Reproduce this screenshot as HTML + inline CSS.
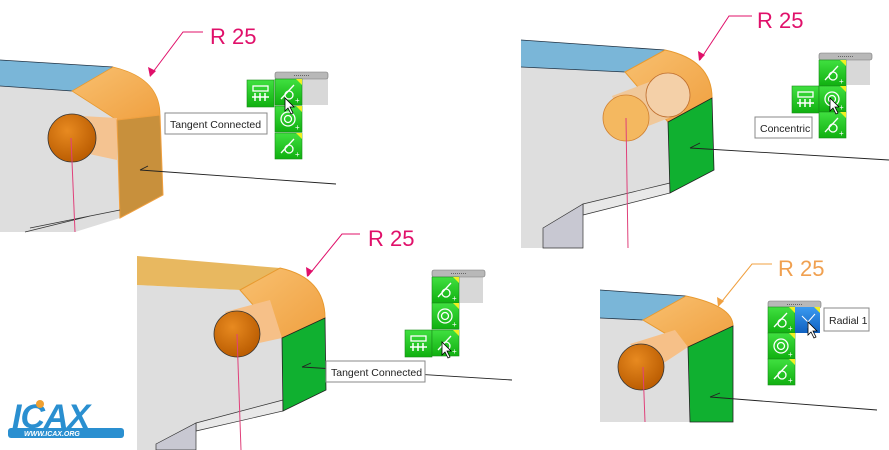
<!DOCTYPE html>
<html><head><meta charset="utf-8"><style>
html,body{margin:0;padding:0;background:#fff;}
svg{display:block;}
text{font-family:"Liberation Sans",sans-serif;}
</style></head><body>
<svg width="889" height="450" viewBox="0 0 889 450" xmlns="http://www.w3.org/2000/svg">
<defs>
<linearGradient id="org" x1="0" y1="0" x2="1" y2="1"><stop offset="0" stop-color="#f8c070"/><stop offset="1" stop-color="#f0a040"/></linearGradient>
<radialGradient id="hole" cx="0.4" cy="0.35" r="0.7"><stop offset="0" stop-color="#e88a20"/><stop offset="1" stop-color="#b85a00"/></radialGradient>
<linearGradient id="gbtn" x1="0" y1="0" x2="0" y2="1"><stop offset="0" stop-color="#40e040"/><stop offset="1" stop-color="#10b010"/></linearGradient>
<linearGradient id="bbtn" x1="0" y1="0" x2="0" y2="1"><stop offset="0" stop-color="#3a9af0"/><stop offset="1" stop-color="#1060c0"/></linearGradient>
<g id="btnT"><rect width="27" height="26" fill="url(#gbtn)" stroke="#1a8a1a" stroke-width="0.6"/><polygon points="21,0 27,0 27,6" fill="#f0f020"/><path d="M6,20 L19,6" stroke="#fff" stroke-width="1.3"/><circle cx="14" cy="16" r="4" fill="none" stroke="#fff" stroke-width="1.3"/><text x="20" y="24" font-size="8" fill="#fff">+</text></g>
<g id="btnC"><rect width="27" height="26" fill="url(#gbtn)" stroke="#1a8a1a" stroke-width="0.6"/><polygon points="21,0 27,0 27,6" fill="#f0f020"/><circle cx="13" cy="13" r="7" fill="none" stroke="#fff" stroke-width="1.3"/><circle cx="13" cy="13" r="3.5" fill="none" stroke="#fff" stroke-width="1.3"/><text x="20" y="24" font-size="8" fill="#fff">+</text></g>
<g id="btnA"><rect width="27" height="27" fill="url(#gbtn)" stroke="#1a8a1a" stroke-width="0.6"/><rect x="6" y="6" width="15" height="5" fill="none" stroke="#fff" stroke-width="1.3"/><path d="M8,13 v8 M13,13 v8 M18,13 v8 M5,17 h17" stroke="#fff" stroke-width="1.5"/></g>
<g id="hdr"><rect width="53" height="7" rx="2" fill="#b8b8b8" stroke="#777" stroke-width="0.6"/><path d="M19,3.5 h15" stroke="#666" stroke-dasharray="1,1"/></g>
<path id="cur" d="M0,0 v13 l3,-3 l3,6 l2,-1 l-3,-6 h4 z" fill="#fff" stroke="#000" stroke-width="0.8"/>
</defs>

<!-- PANEL 1 -->
<polygon points="0,86 72,91 117,120 120,218 75,232 0,232" fill="#dedede"/>
<polygon points="0,60 113,67 72,91 0,86" fill="#7ab6d8"/>
<path d="M0,60 L113,67 M0,86 L72,91" stroke="#234" stroke-width="0.8"/>
<path d="M72,91 L113,67 Q160,78 160,115 L117,120 Z" fill="url(#org)" stroke="#e89a30" stroke-width="0.8"/>
<path d="M64,115 L117,118 L117,160 L80,152 Z" fill="#f6c088" opacity="0.9"/>
<polygon points="117,120 160,115 163,195 120,218" fill="#c8903c" stroke="#f0a040"/>
<path d="M120,210 L30,228 M25,232 L90,216" stroke="#333" stroke-width="0.8"/>
<circle cx="72" cy="138" r="24" fill="url(#hole)" stroke="#333" stroke-width="0.8"/>
<path d="M71,138 L75,232" stroke="#e0407a" stroke-width="1"/>
<path d="M140,170 L336,184 M140,170 L148,166" stroke="#222" stroke-width="0.9"/>
<path d="M150,76 L183,32 L203,32" stroke="#e0106a" fill="none" stroke-width="1"/>
<polygon points="150,77 148,67 156,71" fill="#e0106a"/>
<text x="210" y="44" font-size="22" fill="#e0106a">R 25</text>
<rect x="165" y="113" width="102" height="21" fill="#fff" stroke="#888"/>
<text x="170" y="128" font-size="10.5" fill="#222">Tangent Connected</text>
<rect x="302" y="78" width="26" height="27" fill="#d8d8d8"/>
<use href="#hdr" x="275" y="72"/>
<use href="#btnA" x="247" y="80"/>
<use href="#btnT" x="275" y="79"/>
<use href="#btnC" x="275" y="106"/>
<use href="#btnT" x="275" y="133"/>
<use href="#cur" x="285" y="98"/>

<!-- PANEL 2 -->
<polygon points="521,67 625,72 668,122 670,193 583,215 543,228 543,248 521,248" fill="#dedede"/>
<polygon points="583,204 670,183 670,193 583,215" fill="#e8e8e8" stroke="#333" stroke-width="0.7"/>
<polygon points="543,228 583,204 583,248 543,248" fill="#c8c8d2" stroke="#333" stroke-width="0.7"/>
<polygon points="521,40 665,50 625,72 521,67" fill="#7ab6d8"/>
<path d="M521,40 L665,50 M521,67 L625,72" stroke="#234" stroke-width="0.8"/>
<path d="M625,72 L665,50 Q712,60 712,98 L668,122 Z" fill="url(#org)" stroke="#e89a30"/>
<polygon points="668,122 712,98 714,170 670,193" fill="#10b030" stroke="#222" stroke-width="0.8"/>
<path d="M612,96 L660,78 L684,112 L628,134 Z" fill="#f0c89a"/>
<circle cx="668" cy="95" r="22" fill="#f4d0a8" stroke="#c07030" stroke-width="0.8"/>
<circle cx="626" cy="118" r="23" fill="#f4b860" stroke="#d08030" stroke-width="0.8"/>
<path d="M626,118 L628,248" stroke="#e0407a"/>
<path d="M690,148 L889,160 M690,148 L700,143" stroke="#222" stroke-width="0.9"/>
<path d="M700,60 L729,16 L752,16" stroke="#e0106a" fill="none"/>
<polygon points="699,61 698,51 705,55" fill="#e0106a"/>
<text x="757" y="28" font-size="22" fill="#e0106a">R 25</text>
<rect x="755" y="117" width="57" height="21" fill="#fff" stroke="#888"/>
<text x="760" y="132" font-size="10.5" fill="#222">Concentric</text>
<rect x="846" y="59" width="24" height="26" fill="#d8d8d8"/>
<use href="#hdr" x="819" y="53"/>
<use href="#btnT" x="819" y="60"/>
<use href="#btnA" x="792" y="86"/>
<use href="#btnC" x="819" y="86"/>
<use href="#btnT" x="819" y="112"/>
<use href="#cur" x="830" y="98"/>

<!-- PANEL 3 -->
<polygon points="137,285 240,290 282,338 283,411 196,431 156,445 156,450 137,450" fill="#dedede"/>
<polygon points="196,423 283,400 283,411 196,431" fill="#e8e8e8" stroke="#333" stroke-width="0.7"/>
<polygon points="156,444 196,423 196,450 156,450" fill="#c8c8d2" stroke="#333" stroke-width="0.7"/>
<polygon points="137,256 280,268 240,290 137,285" fill="#e8b860"/>
<path d="M240,290 L280,268 Q325,278 325,318 L282,338 Z" fill="url(#org)" stroke="#e89a30"/>
<path d="M225,312 L270,300 L282,338 L250,345 Z" fill="#f6c088"/>
<polygon points="282,338 325,318 326,390 283,411" fill="#10b030" stroke="#222" stroke-width="0.8"/>
<circle cx="237" cy="334" r="23" fill="url(#hole)" stroke="#333" stroke-width="0.8"/>
<path d="M237,334 L241,450" stroke="#e0407a"/>
<path d="M302,367 L512,380 M302,367 L311,363" stroke="#222" stroke-width="0.9"/>
<path d="M308,276 L342,234 L360,234" stroke="#e0106a" fill="none"/>
<polygon points="307,277 306,267 313,271" fill="#e0106a"/>
<text x="368" y="246" font-size="22" fill="#e0106a">R 25</text>
<rect x="326" y="361" width="99" height="21" fill="#fff" stroke="#888"/>
<text x="331" y="376" font-size="10.5" fill="#222">Tangent Connected</text>
<rect x="458" y="277" width="25" height="26" fill="#d8d8d8"/>
<use href="#hdr" x="432" y="270"/>
<use href="#btnT" x="432" y="277"/>
<use href="#btnC" x="432" y="303"/>
<use href="#btnA" x="405" y="330"/>
<use href="#btnT" x="432" y="330"/>
<use href="#cur" x="442" y="342"/>

<!-- PANEL 4 -->
<polygon points="600,318 643,320 688,347 690,422 600,422" fill="#dedede"/>
<polygon points="600,290 686,296 643,320 600,318" fill="#7ab6d8"/>
<path d="M600,290 L686,296 M600,318 L643,320" stroke="#234" stroke-width="0.8"/>
<path d="M643,320 L686,296 Q733,306 733,326 L688,347 Z" fill="url(#org)" stroke="#e89a30"/>
<path d="M630,344 L675,330 L688,347 L650,372 Z" fill="#f6c088"/>
<polygon points="688,347 733,326 733,422 690,422" fill="#10b030" stroke="#222" stroke-width="0.8"/>
<circle cx="641" cy="367" r="23" fill="url(#hole)" stroke="#333" stroke-width="0.8"/>
<path d="M643,367 L645,422" stroke="#e0407a"/>
<path d="M710,397 L877,410 M710,397 L720,393" stroke="#222" stroke-width="0.9"/>
<path d="M719,305 L752,264 L772,264" stroke="#f0a040" fill="none"/>
<polygon points="718,307 717,297 724,301" fill="#f0a040"/>
<text x="778" y="276" font-size="22" fill="#f0a050">R 25</text>
<rect x="824" y="308" width="45" height="23" fill="#fff" stroke="#888"/>
<text x="829" y="324" font-size="10.5" fill="#222">Radial 1</text>
<use href="#hdr" x="768" y="301"/>
<use href="#btnT" x="768" y="307"/>
<rect x="795" y="307" width="25" height="26" fill="url(#bbtn)"/>
<polygon points="814,307 820,307 820,313" fill="#f0f020"/>
<path d="M802,316 L808,322 L815,314 M808,322 v6" stroke="#fff" fill="none"/>
<use href="#btnC" x="768" y="333"/>
<use href="#btnT" x="768" y="359"/>
<use href="#cur" x="808" y="322"/>

<!-- LOGO -->
<g>
<text x="12" y="428" font-size="34" font-style="italic" font-weight="bold" fill="#2a8fd0" letter-spacing="-1">ICAX</text>
<circle cx="40" cy="404" r="4" fill="#f0a030"/>
<rect x="8" y="428" width="116" height="10" rx="3" fill="#2a8fd0"/>
<text x="24" y="436" font-size="7" font-weight="bold" font-style="italic" fill="#fff">WWW.ICAX.ORG</text>
</g>
</svg>
</body></html>
